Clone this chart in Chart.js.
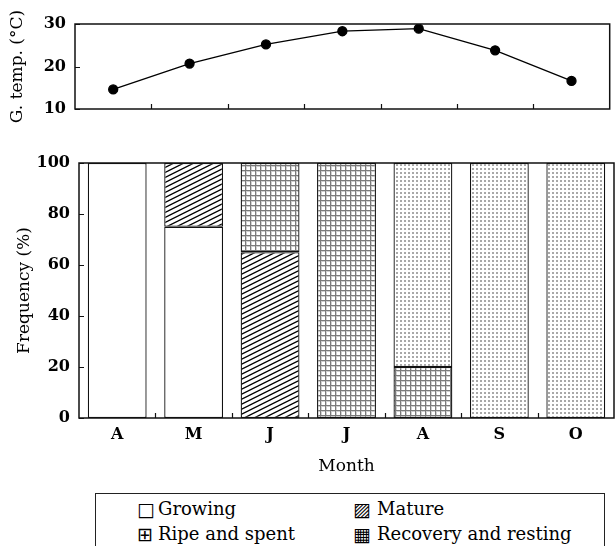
<!DOCTYPE html>
<html>
<head>
<meta charset="utf-8">
<script src="https://cdn.jsdelivr.net/npm/chart.js@4.4.1/dist/chart.umd.min.js"></script>
<style>
    html, body { margin: 0; padding: 0; background: #fff; }
    body { position: relative; width: 616px; height: 546px; overflow: hidden; font-family: 'DejaVu Serif', serif; color: #000; }
    #tempWrap { position: absolute; left: 0; top: 0; width: 616px; height: 140px; }
    #freqWrap { position: absolute; left: 0; top: 140px; width: 616px; height: 345px; }
    .legend-box { position: absolute; left: 95px; top: 493px; width: 508px; height: 70px; border: 1.5px solid #222; border-bottom: none; }
    .legend-txt { position: absolute; font-size: 18px; line-height: 18px; white-space: nowrap; }
    .legend-sym { position: absolute; font-family: 'DejaVu Sans', sans-serif; font-size: 19px; line-height: 18px; }
</style>
</head>
<body>
<div id="tempWrap"><canvas id="tempChart"></canvas></div>
<div id="freqWrap"><canvas id="freqChart"></canvas></div>
<div class="legend-box"></div>
<span class="legend-sym" style="left:137px;top:500px">□</span><span class="legend-txt" style="left:158px;top:500px">Growing</span>
<span class="legend-sym" style="left:353px;top:500px">▨</span><span class="legend-txt" style="left:377px;top:500px">Mature</span>
<span class="legend-sym" style="left:137px;top:525px">⊞</span><span class="legend-txt" style="left:158px;top:525px">Ripe and spent</span>
<span class="legend-sym" style="left:353px;top:525px">▦</span><span class="legend-txt" style="left:377px;top:525px">Recovery and resting</span>

<script>
const months = ['A', 'M', 'J', 'J', 'A', 'S', 'O'];
const gonadTemp = [14.6, 20.7, 25.2, 28.3, 28.9, 23.8, 16.6];
const growing = [100, 75, null, null, null, null, null];
const mature = [null, 25, 65, null, null, null, null];
const ripeSpent = [null, null, 35, 100, 20, null, null];
const recovery = [null, null, null, null, 80, 100, 100];
const tempTicks = [10, 20, 30];
const freqTicks = [0, 20, 40, 60, 80, 100];

const serif = "'DejaVu Serif', serif";

function makePattern(w, h, draw) {
    const c = document.createElement('canvas');
    c.width = w;
    c.height = h;
    const g = c.getContext('2d');
    g.fillStyle = '#fff';
    g.fillRect(0, 0, w, h);
    draw(g, w, h);
    return g.createPattern(c, 'repeat');
}

const hatchMature = makePattern(10, 5, function(g) {
    g.strokeStyle = '#000';
    g.lineWidth = 1.3;
    g.beginPath();
    [-5, 0, 5].forEach(function(k) {
        g.moveTo(-1, 5 + k + 0.5);
        g.lineTo(11, k - 0.5);
    });
    g.stroke();
});

const gridRipe = makePattern(5, 5, function(g) {
    g.fillStyle = '#cfcfcf';
    g.fillRect(0, 1, 5, 1);
    g.fillRect(1, 0, 1, 5);
    g.fillStyle = '#7a7a7a';
    g.fillRect(0, 0, 5, 1);
    g.fillRect(0, 0, 1, 5);
});

const dotsRecovery = makePattern(4, 4, function(g) {
    g.fillStyle = '#a8a8a8';
    g.fillRect(0, 0, 2, 2);
});

// frame around the plot plus the short inward ticks
const frameAndTicks = {
    id: 'frameAndTicks',
    afterDatasetsDraw(chart) {
        const ctx = chart.ctx;
        const area = chart.chartArea;
        const x = chart.scales.x;
        const y = chart.scales.y;
        ctx.save();
        ctx.strokeStyle = '#111';
        ctx.lineWidth = 1.2;
        ctx.beginPath();
        y.ticks.forEach(function(t) {
            const py = Math.round(y.getPixelForValue(t.value)) + 0.5;
            ctx.moveTo(area.left, py);
            ctx.lineTo(area.left + 5, py);
        });
        const step = x.getPixelForValue(1) - x.getPixelForValue(0);
        for (let i = 0; i < months.length - 1; i++) {
            const px = Math.round(x.getPixelForValue(i) + step / 2) + 0.5;
            ctx.moveTo(px, area.bottom);
            ctx.lineTo(px, area.bottom - 5);
        }
        ctx.stroke();
        ctx.lineWidth = 1.5;
        ctx.strokeRect(area.left, area.top, area.right - area.left, area.bottom - area.top);
        ctx.restore();
    }
};

function tickFont() {
    return { family: serif, size: 16, weight: 'bold' };
}

new Chart(document.getElementById('tempChart'), {
    type: 'line',
    data: {
        labels: months,
        datasets: [{
            label: 'G. temp.',
            data: gonadTemp,
            borderColor: '#000',
            backgroundColor: '#000',
            borderWidth: 1.3,
            pointRadius: 4.5,
            pointHoverRadius: 5,
            tension: 0
        }]
    },
    options: {
        responsive: true,
        maintainAspectRatio: false,
        animation: false,
        layout: { padding: { top: 24, right: 2, left: 0, bottom: 0 } },
        plugins: { legend: { display: false } },
        scales: {
            x: {
                offset: true,
                grid: { display: false, drawTicks: false },
                border: { display: false },
                ticks: { display: false },
                afterFit: function(s) { s.height = 31; }
            },
            y: {
                min: 10,
                max: 30,
                afterBuildTicks: function(s) { s.ticks = tempTicks.map(function(v) { return { value: v }; }); },
                grid: { display: false, drawTicks: false },
                border: { display: false },
                ticks: { padding: 9, color: '#000', font: tickFont() },
                title: {
                    display: true,
                    text: 'G. temp. (°C)',
                    color: '#000',
                    font: { family: serif, size: 17 },
                    padding: { top: 7, bottom: 0 }
                },
                afterFit: function(s) { s.width = 75; }
            }
        }
    },
    plugins: [frameAndTicks]
});

function barSet(label, data, fill) {
    return {
        label: label,
        data: data,
        backgroundColor: fill,
        borderColor: '#111',
        borderWidth: 1.3,
        borderSkipped: false,
        categoryPercentage: 1,
        barPercentage: 0.77
    };
}

new Chart(document.getElementById('freqChart'), {
    type: 'bar',
    data: {
        labels: months,
        datasets: [
            barSet('Growing', growing, '#fff'),
            barSet('Mature', mature, hatchMature),
            barSet('Ripe and spent', ripeSpent, gridRipe),
            barSet('Recovery and resting', recovery, dotsRecovery)
        ]
    },
    options: {
        responsive: true,
        maintainAspectRatio: false,
        animation: false,
        layout: { padding: { top: 23, right: 2, left: 0, bottom: 0 } },
        plugins: { legend: { display: false } },
        scales: {
            x: {
                stacked: true,
                grid: { display: false, drawTicks: false },
                border: { display: false },
                ticks: { padding: 7, color: '#000', font: tickFont() },
                title: {
                    display: true,
                    text: 'Month',
                    color: '#000',
                    font: { family: serif, size: 17 },
                    padding: { top: 4, bottom: 8 }
                },
                afterFit: function(s) { s.height = 67; }
            },
            y: {
                stacked: true,
                min: 0,
                max: 100,
                afterBuildTicks: function(s) { s.ticks = freqTicks.map(function(v) { return { value: v }; }); },
                grid: { display: false, drawTicks: false },
                border: { display: false },
                ticks: { padding: 9, color: '#000', font: tickFont() },
                title: {
                    display: true,
                    text: 'Frequency (%)',
                    color: '#000',
                    font: { family: serif, size: 17 },
                    padding: { top: 14, bottom: 0 }
                },
                afterFit: function(s) { s.width = 79; }
            }
        }
    },
    plugins: [frameAndTicks]
});
</script>
</body>
</html>
